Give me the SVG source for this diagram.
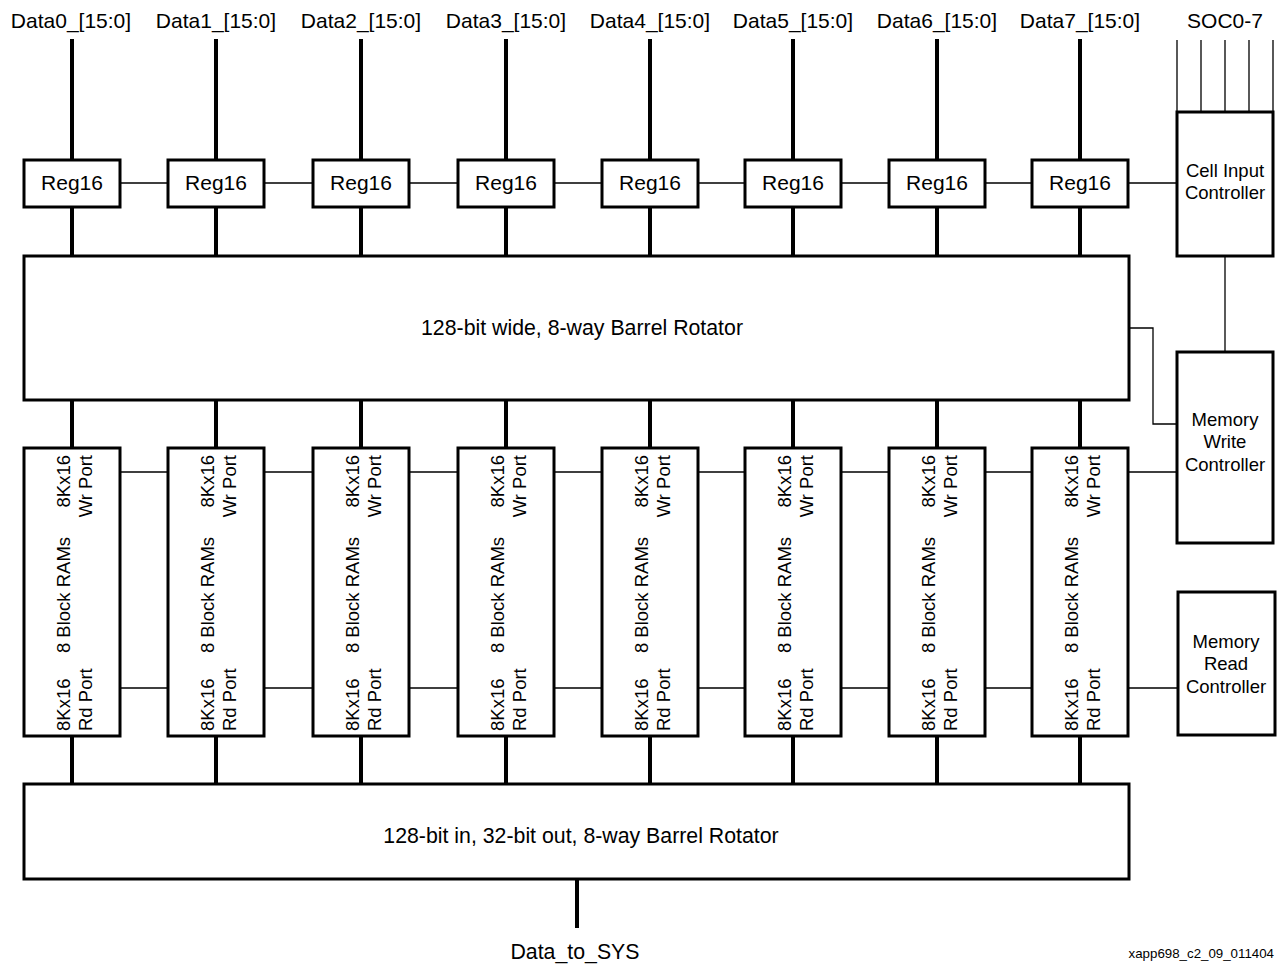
<svg xmlns="http://www.w3.org/2000/svg" width="1278" height="964" viewBox="0 0 1278 964">
<style>
text{font-family:"Liberation Sans",Arial,sans-serif;fill:#000}
.box{fill:#fff;stroke:#000;stroke-width:3}
.bus{stroke:#000;stroke-width:4;fill:none}
.thin{stroke:#000;stroke-width:1.3;fill:none}
.lbl{font-size:21px;text-anchor:middle}
.big{font-size:21.3px;text-anchor:middle}
.ctl{font-size:18.5px;text-anchor:middle}
.rot{font-size:18.5px}
</style>
<rect width="1278" height="964" fill="#fff"/>
<g id="connectors">
<path class="bus" d="M72,39V160M216,39V160M361,39V160M506,39V160M650,39V160M793,39V160M937,39V160M1080,39V160"/>
<path class="bus" d="M72,207V256M216,207V256M361,207V256M506,207V256M650,207V256M793,207V256M937,207V256M1080,207V256"/>
<path class="bus" d="M72,400V448M216,400V448M361,400V448M506,400V448M650,400V448M793,400V448M937,400V448M1080,400V448"/>
<path class="bus" d="M72,736V784M216,736V784M361,736V784M506,736V784M650,736V784M793,736V784M937,736V784M1080,736V784"/>
<path class="bus" d="M577,879V928"/>
<path class="thin" d="M120,183H168M264,183H313M409,183H458M554,183H602M698,183H745M841,183H889M985,183H1032M1128,183H1177"/>
<path class="thin" d="M1177,40V112M1201,40V112M1225,40V112M1249,40V112M1273,40V112"/>
<path class="thin" d="M1225,256V352"/>
<path class="thin" d="M1129,328H1153V424H1177"/>
<path class="thin" d="M120,472H168M264,472H313M409,472H458M554,472H602M698,472H745M841,472H889M985,472H1032M1128,472H1177"/>
<path class="thin" d="M120,688H168M264,688H313M409,688H458M554,688H602M698,688H745M841,688H889M985,688H1032M1128,688H1178"/>
</g>
<g id="labels">
<text class="lbl" x="71" y="28">Data0_[15:0]</text>
<text class="lbl" x="216" y="28">Data1_[15:0]</text>
<text class="lbl" x="361" y="28">Data2_[15:0]</text>
<text class="lbl" x="506" y="28">Data3_[15:0]</text>
<text class="lbl" x="650" y="28">Data4_[15:0]</text>
<text class="lbl" x="793" y="28">Data5_[15:0]</text>
<text class="lbl" x="937" y="28">Data6_[15:0]</text>
<text class="lbl" x="1080" y="28">Data7_[15:0]</text>
<text class="lbl" x="1225" y="28">SOC0-7</text>
<text class="big" x="575" y="959">Data_to_SYS</text>
<text x="1274" y="958" style="font-size:13.3px;text-anchor:end">xapp698_c2_09_011404</text>
</g>
<g id="reg0"><rect class="box" x="24" y="160" width="96" height="47"/><text class="lbl" x="72" y="190">Reg16</text></g>
<g id="reg1"><rect class="box" x="168" y="160" width="96" height="47"/><text class="lbl" x="216" y="190">Reg16</text></g>
<g id="reg2"><rect class="box" x="313" y="160" width="96" height="47"/><text class="lbl" x="361" y="190">Reg16</text></g>
<g id="reg3"><rect class="box" x="458" y="160" width="96" height="47"/><text class="lbl" x="506" y="190">Reg16</text></g>
<g id="reg4"><rect class="box" x="602" y="160" width="96" height="47"/><text class="lbl" x="650" y="190">Reg16</text></g>
<g id="reg5"><rect class="box" x="745" y="160" width="96" height="47"/><text class="lbl" x="793" y="190">Reg16</text></g>
<g id="reg6"><rect class="box" x="889" y="160" width="96" height="47"/><text class="lbl" x="937" y="190">Reg16</text></g>
<g id="reg7"><rect class="box" x="1032" y="160" width="96" height="47"/><text class="lbl" x="1080" y="190">Reg16</text></g>
<g id="cellInput"><rect class="box" x="1177" y="112" width="96" height="144"/><text class="ctl" x="1225" y="177">Cell Input</text><text class="ctl" x="1225" y="199">Controller</text></g>
<g id="rotatorIn"><rect class="box" x="24" y="256" width="1105" height="144"/><text class="big" x="582" y="335">128-bit wide, 8-way Barrel Rotator</text></g>
<g id="memWrite"><rect class="box" x="1177" y="352" width="96" height="191"/><text class="ctl" x="1225" y="426">Memory</text><text class="ctl" x="1225" y="448">Write</text><text class="ctl" x="1225" y="471">Controller</text></g>
<g id="memRead"><rect class="box" x="1178" y="592" width="97" height="143"/><text class="ctl" x="1226" y="648">Memory</text><text class="ctl" x="1226" y="670">Read</text><text class="ctl" x="1226" y="693">Controller</text></g>
<g id="rotatorOut"><rect class="box" x="24" y="784" width="1105" height="95"/><text class="big" x="581" y="843">128-bit in, 32-bit out, 8-way Barrel Rotator</text></g>
<defs>
<g id="ramText">
<text class="rot" transform="translate(-2,455) rotate(-90)" text-anchor="end">8Kx16</text>
<text class="rot" transform="translate(20,455) rotate(-90)" text-anchor="end">Wr Port</text>
<text class="rot" transform="translate(-2,595) rotate(-90)" text-anchor="middle">8 Block RAMs</text>
<text class="rot" transform="translate(-2,731) rotate(-90)">8Kx16</text>
<text class="rot" transform="translate(20,731) rotate(-90)">Rd Port</text>
</g>
</defs>
<g id="ram0"><rect class="box" x="24" y="448" width="96" height="288"/><use href="#ramText" x="72"/></g>
<g id="ram1"><rect class="box" x="168" y="448" width="96" height="288"/><use href="#ramText" x="216"/></g>
<g id="ram2"><rect class="box" x="313" y="448" width="96" height="288"/><use href="#ramText" x="361"/></g>
<g id="ram3"><rect class="box" x="458" y="448" width="96" height="288"/><use href="#ramText" x="506"/></g>
<g id="ram4"><rect class="box" x="602" y="448" width="96" height="288"/><use href="#ramText" x="650"/></g>
<g id="ram5"><rect class="box" x="745" y="448" width="96" height="288"/><use href="#ramText" x="793"/></g>
<g id="ram6"><rect class="box" x="889" y="448" width="96" height="288"/><use href="#ramText" x="937"/></g>
<g id="ram7"><rect class="box" x="1032" y="448" width="96" height="288"/><use href="#ramText" x="1080"/></g>
</svg>
